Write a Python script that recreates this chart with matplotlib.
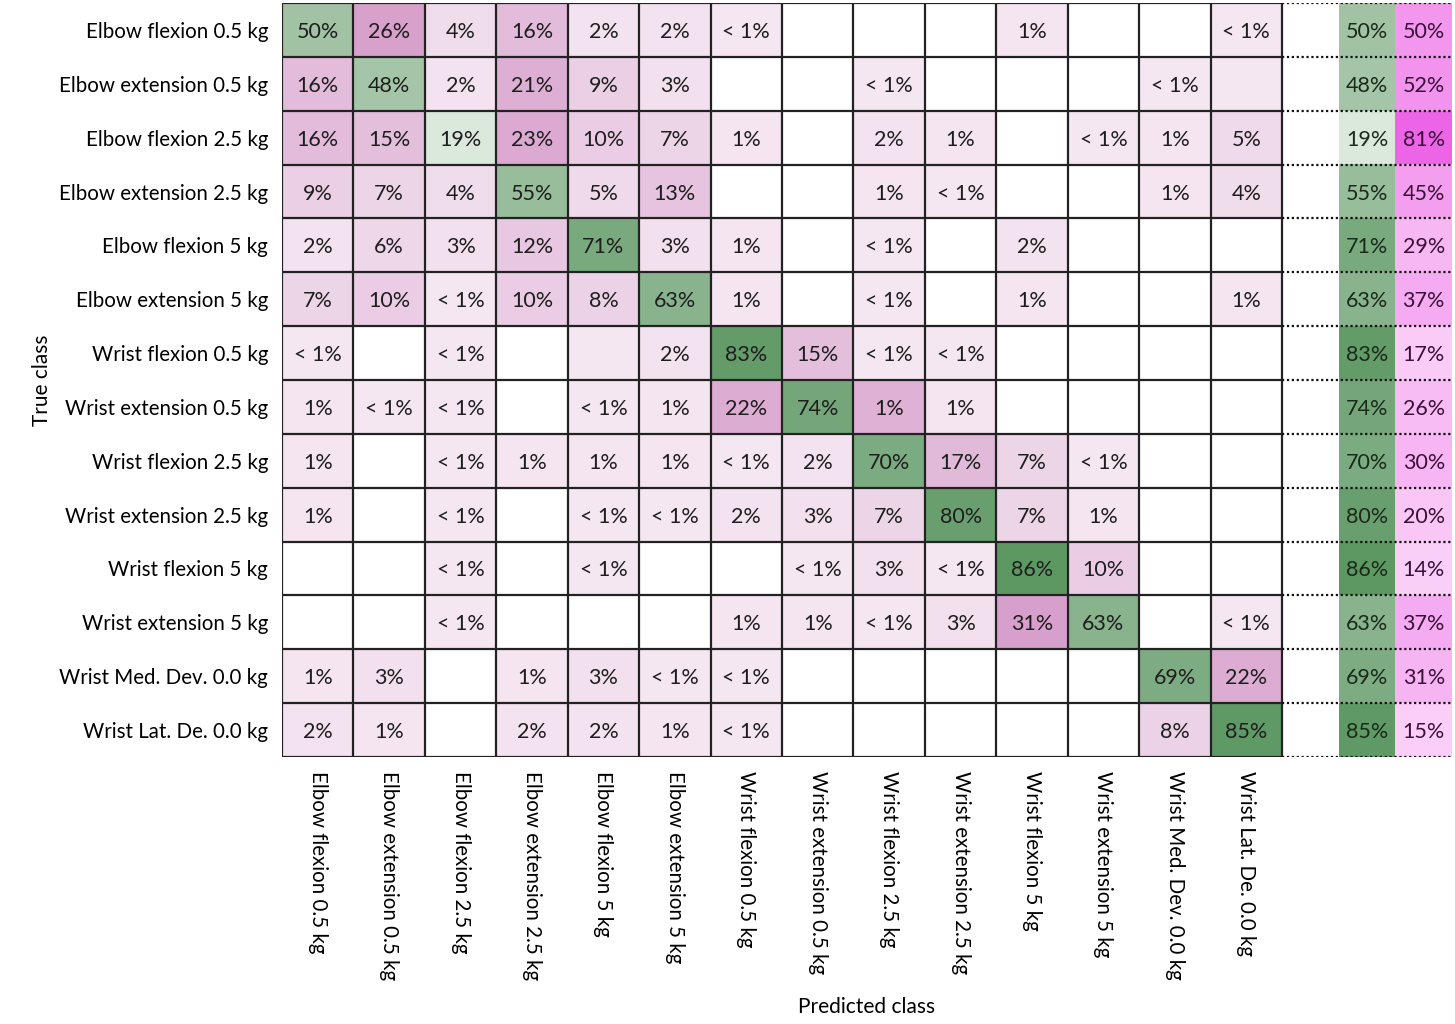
import numpy as np
import matplotlib
matplotlib.use("Agg")
import matplotlib.pyplot as plt
from matplotlib.colors import to_rgb

plt.rcParams['font.family'] = ['Lato', 'DejaVu Sans']

classes = ['Elbow flexion 0.5 kg', 'Elbow extension 0.5 kg', 'Elbow flexion 2.5 kg',
           'Elbow extension 2.5 kg', 'Elbow flexion 5 kg', 'Elbow extension 5 kg',
           'Wrist flexion 0.5 kg', 'Wrist extension 0.5 kg', 'Wrist flexion 2.5 kg',
           'Wrist extension 2.5 kg', 'Wrist flexion 5 kg', 'Wrist extension 5 kg',
           'Wrist Med. Dev. 0.0 kg', 'Wrist Lat. De. 0.0 kg']

L = 0.5  # shown as "< 1%"
# rows = true class, columns = predicted class, in percent
conf = [
    [50, 26, 4, 16, 2, 2, L, 0, 0, 0, 1, 0, 0, L],
    [16, 48, 2, 21, 9, 3, 0, 0, L, 0, 0, 0, L, 0],
    [16, 15, 19, 23, 10, 7, 1, 0, 2, 1, 0, L, 1, 5],
    [9, 7, 4, 55, 5, 13, 0, 0, 1, L, 0, 0, 1, 4],
    [2, 6, 3, 12, 71, 3, 1, 0, L, 0, 2, 0, 0, 0],
    [7, 10, L, 10, 8, 63, 1, 0, L, 0, 1, 0, 0, 1],
    [L, 0, L, 0, 0, 2, 83, 15, L, L, 0, 0, 0, 0],
    [1, L, L, 0, L, 1, 22, 74, 1, 1, 0, 0, 0, 0],
    [1, 0, L, 1, 1, 1, L, 2, 70, 17, 7, L, 0, 0],
    [1, 0, L, 0, L, L, 2, 3, 7, 80, 7, 1, 0, 0],
    [0, 0, L, 0, L, 0, 0, L, 3, L, 86, 10, 0, 0],
    [0, 0, L, 0, 0, 0, 1, 1, L, 3, 31, 63, 0, L],
    [1, 3, 0, 1, 3, L, L, 0, 0, 0, 0, 0, 69, 22],
    [2, 1, 0, 2, 2, 1, L, 0, 0, 0, 0, 0, 8, 85],
]
# cells whose shading in the picture differs from the printed value
shade_only = {(1, 13): 0.5, (6, 4): 0.1, (7, 8): 20}

correct = [50, 48, 19, 55, 71, 63, 83, 74, 70, 80, 86, 63, 69, 85]
wrong = [50, 52, 81, 45, 29, 37, 17, 26, 30, 20, 14, 37, 31, 15]


def lerp(c0, c1, t):
    a, b = np.array(to_rgb(c0)), np.array(to_rgb(c1))
    return a + (b - a) * np.clip(t, 0, 1)


def green(v):
    return lerp('#ffffff', '#5a9660', v / 88)


def pink(v):
    if v <= 0:
        return np.ones(3)
    return lerp('#f5e7f2', '#d7a0cc', (v - 0.5) / 26)


def magenta(v):
    return lerp('#fde6fb', '#ec5fe6', v / 85)


def label(v):
    if v <= 0:
        return ''
    if v < 1:
        return '< 1%'
    return f'{v:.0f}%'


n = len(classes)
cm = np.array(conf, dtype=float)
rgb = np.ones((n, n, 3))
for i in range(n):
    for j in range(n):
        v = shade_only.get((i, j), cm[i, j])
        rgb[i, j] = green(v) if i == j else pink(v)

fig = plt.figure(figsize=(14.55, 10.24), dpi=100)
ax = fig.add_axes([282 / 1455, 1 - 757 / 1024, 1170 / 1455, 754 / 1024])

xmax = 1170 / (1000 / 14)
gx0 = (1339 - 282) / (1000 / 14)
gw = (xmax - gx0) / 2

ax.imshow(rgb, extent=(0, n, n, 0), interpolation='nearest', aspect='auto')
side = np.ones((n, 2, 3))
for i in range(n):
    side[i, 0] = green(correct[i])
    side[i, 1] = magenta(wrong[i])
ax.imshow(side, extent=(gx0, xmax, n, 0), interpolation='nearest', aspect='auto')

txt = '#1e1e1e'
for i in range(n):
    for j in range(n):
        ax.text(j + 0.5, i + 0.5, label(cm[i, j]), ha='center', va='center_baseline',
                fontsize=15.5, color=txt)
    ax.text(gx0 + gw / 2, i + 0.5, f'{correct[i]}%', ha='center', va='center_baseline',
            fontsize=15.5, color='#1a2a1a')
    ax.text(gx0 + gw * 1.5, i + 0.5, f'{wrong[i]}%', ha='center', va='center_baseline',
            fontsize=15.5, color='#3a1038')

ax.vlines(np.arange(n + 1), 0, n, color='#222222', lw=1.6)
ax.hlines(np.arange(n + 1), 0, n, color='#222222', lw=1.6)
ax.hlines(np.arange(n + 1), n, xmax, color='#111111', lw=1.6, linestyles=(0, (1, 1.2)))

ax.set_xlim(0, xmax)
ax.set_ylim(n, 0)
for s in ax.spines.values():
    s.set_visible(False)
ax.set_xticks(np.arange(n) + 0.5)
ax.set_xticklabels(classes, rotation=270, fontsize=14.8, va='top', ha='center')
ax.set_yticks(np.arange(n) + 0.5)
ax.set_yticklabels(classes, fontsize=14.8)
ax.tick_params(length=0, pad=10)
ax.set_xlabel('Predicted class', fontsize=15)
ax.set_ylabel('True class', fontsize=15)
ax.xaxis.set_label_coords(0.5, -0.318)
ax.yaxis.set_label_coords(-0.197, 0.5)

fig.savefig('out.png', dpi=100)
